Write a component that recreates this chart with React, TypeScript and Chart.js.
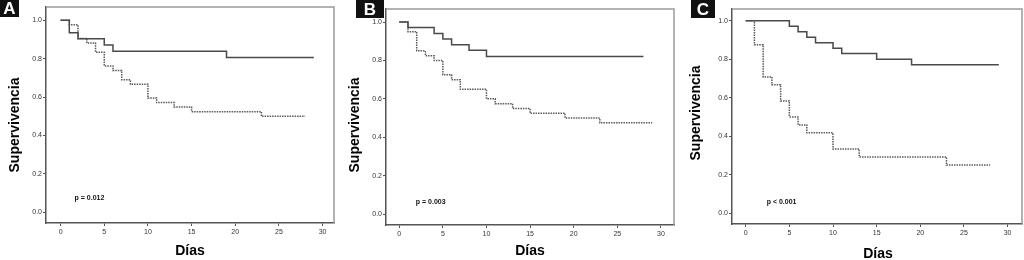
import React, { useEffect, useRef } from "react";
import { Chart, registerables } from "chart.js";
Chart.register(...registerables);

// ---- Data ----
const X_TICKS = [0, 5, 10, 15, 20, 25, 30];
const Y_TICKS = [0, 0.2, 0.4, 0.6, 0.8, 1.0];

const A_SOLID_T = [0, 1, 2, 5, 6, 19, 29];
const A_SOLID_S = [1, 0.935, 0.903, 0.871, 0.839, 0.806, 0.806];
const A_DASH_T = [0, 1, 2, 3, 4, 5, 6, 7, 8, 10, 11, 13, 15, 23, 28];
const A_DASH_S = [1, 0.976, 0.905, 0.881, 0.833, 0.762, 0.738, 0.69, 0.667, 0.595, 0.571, 0.548, 0.524, 0.5, 0.5];

const B_SOLID_T = [0, 1, 4, 5, 6, 8, 10, 28];
const B_SOLID_S = [1, 0.971, 0.941, 0.912, 0.882, 0.853, 0.82, 0.82];
const B_DASH_T = [0, 1, 2, 3, 4, 5, 6, 7, 10, 11, 13, 15, 19, 23, 29];
const B_DASH_S = [1, 0.95, 0.85, 0.825, 0.8, 0.725, 0.7, 0.65, 0.6, 0.575, 0.55, 0.525, 0.5, 0.475, 0.475];

const C_SOLID_T = [0, 5, 6, 7, 8, 10, 11, 15, 19, 29];
const C_SOLID_S = [1, 0.971, 0.943, 0.914, 0.886, 0.857, 0.829, 0.8, 0.771, 0.771];
const C_DASH_T = [0, 1, 2, 3, 4, 5, 6, 7, 10, 13, 23, 28];
const C_DASH_S = [1, 0.875, 0.708, 0.667, 0.583, 0.5, 0.458, 0.417, 0.333, 0.292, 0.25, 0.25];

const LETTERS = ["A", "B", "C"];
const P_TEXTS = ["p = 0.012", "p = 0.003", "p < 0.001"];
const P_POS_X = [1.6, 1.9, 2.4];
const P_POS_Y = [0.073, 0.062, 0.057];
const Y_TITLE = "Supervivencia";
const X_TITLE = "Días";

type PanelCfg = {
  left: number; width: number; height: number;
  area: { l: number; r: number; t: number; b: number };
  xmin: number; xmax: number; ymin: number; ymax: number;
  solidT: number[]; solidS: number[]; dashT: number[]; dashS: number[];
  letter: string; letterBox: [number, number, number, number];
  pText: string; pX: number; pY: number;
  yTitlePos: [number, number]; xTitlePos: [number, number];
};

const PANELS: PanelCfg[] = [
  {
    left: 0, width: 340, height: 260,
    area: { l: 46, r: 334, t: 7, b: 223 },
    xmin: -1.67, xmax: 31.31, ymin: -0.056, ymax: 1.069,
    solidT: A_SOLID_T, solidS: A_SOLID_S, dashT: A_DASH_T, dashS: A_DASH_S,
    letter: LETTERS[0], letterBox: [0, 0, 19, 17],
    pText: P_TEXTS[0], pX: P_POS_X[0], pY: P_POS_Y[0],
    yTitlePos: [15, 125], xTitlePos: [190, 251],
  },
  {
    left: 340, width: 340, height: 260,
    area: { l: 46, r: 334, t: 9, b: 225 },
    xmin: -1.52, xmax: 31.5, ymin: -0.057, ymax: 1.068,
    solidT: B_SOLID_T, solidS: B_SOLID_S, dashT: B_DASH_T, dashS: B_DASH_S,
    letter: LETTERS[1], letterBox: [16, 0, 28, 18],
    pText: P_TEXTS[1], pX: P_POS_X[1], pY: P_POS_Y[1],
    yTitlePos: [15, 125], xTitlePos: [190, 251],
  },
  {
    left: 680, width: 344, height: 260,
    area: { l: 52, r: 342, t: 9, b: 224 },
    xmin: -1.57, xmax: 31.65, ymin: -0.057, ymax: 1.061,
    solidT: C_SOLID_T, solidS: C_SOLID_S, dashT: C_DASH_T, dashS: C_DASH_S,
    letter: LETTERS[2], letterBox: [11, 0, 24, 18],
    pText: P_TEXTS[2], pX: P_POS_X[2], pY: P_POS_Y[2],
    yTitlePos: [16, 113], xTitlePos: [198, 254],
  },
];

const FONT = "'Liberation Sans', Arial, sans-serif";

function Panel({ cfg }: { cfg: PanelCfg }) {
  const ref = useRef<HTMLCanvasElement>(null);
  useEffect(() => {
    if (!ref.current) return;
    const decor = {
      id: "decor",
      afterDraw(chart: any) {
        const ctx = chart.ctx as CanvasRenderingContext2D;
        const ca = chart.chartArea;
        ctx.save();
        // frame top/right
        ctx.strokeStyle = "#9a9a9a";
        ctx.lineWidth = 1.5;
        ctx.beginPath();
        ctx.moveTo(ca.left, ca.top);
        ctx.lineTo(ca.right, ca.top);
        ctx.lineTo(ca.right, ca.bottom);
        ctx.stroke();
        // p value
        const xs = chart.scales.x, ys = chart.scales.y;
        ctx.fillStyle = "#111";
        ctx.font = `bold 7px ${FONT}`;
        ctx.textAlign = "left";
        ctx.textBaseline = "middle";
        ctx.fillText(cfg.pText, xs.getPixelForValue(cfg.pX), ys.getPixelForValue(cfg.pY));
        // letter
        const [bx, by, bw, bh] = cfg.letterBox;
        ctx.fillStyle = "#111";
        ctx.fillRect(bx, by, bw, bh);
        ctx.fillStyle = "#fff";
        ctx.font = `bold 17px ${FONT}`;
        ctx.textAlign = "center";
        ctx.textBaseline = "middle";
        ctx.fillText(cfg.letter, bx + bw / 2, by + bh / 2 + 1);
        // axis titles
        ctx.fillStyle = "#000";
        ctx.font = `bold 14px ${FONT}`;
        ctx.fillText(X_TITLE, cfg.xTitlePos[0], cfg.xTitlePos[1]);
        ctx.translate(cfg.yTitlePos[0], cfg.yTitlePos[1]);
        ctx.rotate(-Math.PI / 2);
        ctx.fillText(Y_TITLE, 0, 0);
        ctx.restore();
      },
    };
    const H = cfg.height, W = cfg.width;
    const chart = new Chart(ref.current, {
      type: "line",
      data: {
        datasets: [
          {
            data: cfg.solidT.map((t, i) => ({ x: t, y: cfg.solidS[i] })),
            stepped: true,
            borderColor: "#4a4a4a",
            borderWidth: 1.5,
            pointRadius: 0,
            fill: false,
          },
          {
            data: cfg.dashT.map((t, i) => ({ x: t, y: cfg.dashS[i] })),
            stepped: true,
            borderColor: "#5a5a5a",
            borderWidth: 1.5,
            borderDash: [1.5, 1],
            pointRadius: 0,
            fill: false,
          },
        ],
      },
      options: {
        animation: false,
        responsive: false,
        events: [],
        layout: { padding: { top: cfg.area.t, right: W - cfg.area.r, left: 0, bottom: 0 } },
        plugins: { legend: { display: false }, tooltip: { enabled: false }, title: { display: false } },
        scales: {
          x: {
            type: "linear",
            min: cfg.xmin,
            max: cfg.xmax,
            afterBuildTicks: (s: any) => { s.ticks = X_TICKS.map((v) => ({ value: v })); },
            afterFit: (s: any) => { s.height = H - cfg.area.b; },
            grid: { drawOnChartArea: false, drawTicks: true, tickLength: 3, color: "#555", lineWidth: 1 },
            border: { color: "#555", width: 1.5 },
            ticks: {
              font: { size: 7, family: FONT },
              color: "#333",
              padding: 2,
              maxRotation: 0,
              autoSkip: false,
              callback: (v: any) => String(v),
            },
          },
          y: {
            type: "linear",
            min: cfg.ymin,
            max: cfg.ymax,
            afterBuildTicks: (s: any) => { s.ticks = Y_TICKS.map((v) => ({ value: v })); },
            afterFit: (s: any) => { s.width = cfg.area.l; },
            grid: { drawOnChartArea: false, drawTicks: true, tickLength: 3, color: "#555", lineWidth: 1 },
            border: { color: "#555", width: 1.5 },
            ticks: {
              font: { size: 7, family: FONT },
              color: "#333",
              padding: 1,
              autoSkip: false,
              callback: (v: any) => Number(v).toFixed(1),
            },
          },
        },
      },
      plugins: [decor],
    } as any);
    return () => chart.destroy();
  }, [cfg]);
  return (
    <canvas
      ref={ref}
      width={cfg.width}
      height={cfg.height}
      style={{ position: "absolute", left: cfg.left, top: 0, width: cfg.width, height: cfg.height }}
    />
  );
}

export default function App() {
  return (
    <div style={{ position: "absolute", left: 0, top: 0, width: 1024, height: 260, background: "#fff", overflow: "hidden" }}>
      {PANELS.map((p, i) => (
        <Panel key={i} cfg={p} />
      ))}
    </div>
  );
}
